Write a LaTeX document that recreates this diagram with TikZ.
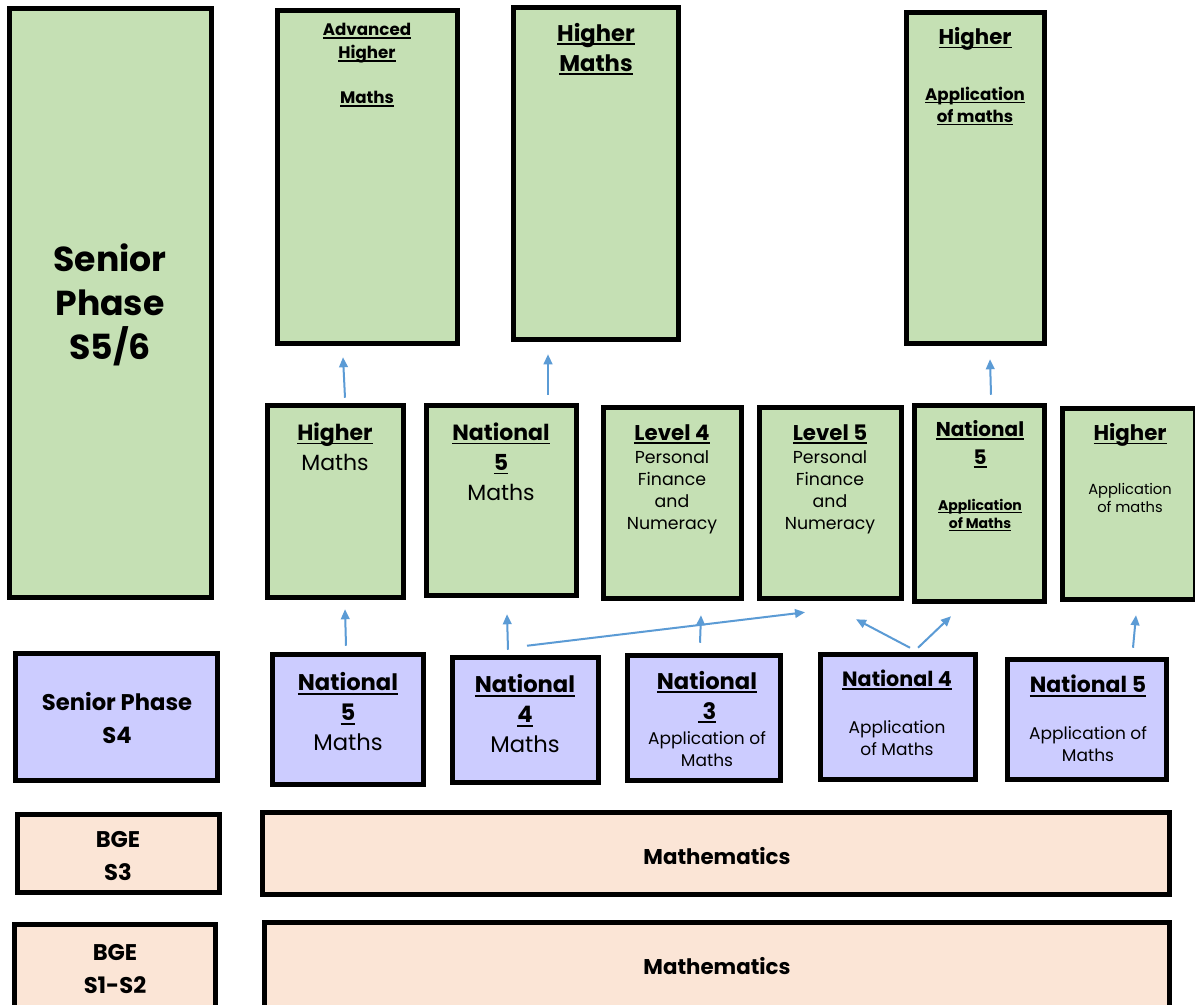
\documentclass[tikz,border=0pt]{standalone}
\usepackage{fontspec}
\setmainfont{Poppins}
\usetikzlibrary{fit,arrows.meta,calc}
\definecolor{gfill}{HTML}{C5E0B4}
\definecolor{pfill}{HTML}{CCCCFF}
\definecolor{ofill}{HTML}{FBE5D6}
\definecolor{arrc}{HTML}{5B9BD5}
\newcommand{\ulx}[1]{\setbox0\hbox{#1}\rlap{\rule[-0.17em]{\wd0}{0.075em}}\box0}
\begin{document}
\begin{tikzpicture}[x=0.75pt,y=-0.75pt,
  box/.style={draw=black,line width=3.4pt,inner sep=0pt},
  gbox/.style={box,fill=gfill},
  pbox/.style={box,fill=pfill},
  obox/.style={box,fill=ofill},
  arr/.style={draw=arrc,line width=1.5pt,-{Triangle[length=7.5pt,width=6.5pt]}},
  tx/.style={align=center,inner sep=0pt,text=black},
  ft/.style 2 args={font=\fontsize{#1}{#2}\selectfont},
  ftb/.style 2 args={font=\fontsize{#1}{#2}\selectfont\bfseries}]
\useasboundingbox (0,0) rectangle (1195,1004);
\clip (0,0) rectangle (1195,1004);
\fill[white] (0,0) rectangle (1195,1004);

% boxes
\node[gbox,fit={(9.5,8.5)(211.5,597.5)}] (ss56) {};
\node[gbox,fit={(277.5,10.5)(457.5,343.5)}] (ah) {};
\node[gbox,fit={(513.5,7.5)(678.5,339.5)}] (hm) {};
\node[gbox,fit={(906.5,12.5)(1044.5,343.5)}] (ha) {};

\node[gbox,fit={(267.5,405.5)(403.5,597.5)}] (h2) {};
\node[gbox,fit={(426.5,405.5)(576.5,595.5)}] (n5m2) {};
\node[gbox,fit={(603.5,407.5)(741.5,598.5)}] (l4) {};
\node[gbox,fit={(759.5,407.5)(901.5,598.5)}] (l5) {};
\node[gbox,fit={(914.5,405.5)(1044.5,601.5)}] (n5a2) {};
\node[gbox,fit={(1062.5,408.5)(1195,599.5)}] (ha2) {};

\node[pbox,fit={(15.5,653.5)(217.5,780.5)}] (sp4) {};
\node[pbox,fit={(272.5,654.5)(423.5,784.5)}] (n5) {};
\node[pbox,fit={(452.5,657.5)(598.5,782.5)}] (n4) {};
\node[pbox,fit={(627.5,655.5)(780.5,780.5)}] (n3) {};
\node[pbox,fit={(820.5,654.5)(975.5,779.5)}] (n4a) {};
\node[pbox,fit={(1007.5,659.5)(1166.5,779.5)}] (n5a) {};

\node[obox,fit={(17.5,814.5)(219.5,892.5)}] (bge3) {};
\node[obox,fit={(262.5,812.5)(1169.5,894.5)}] (m3) {};
\node[obox,fit={(14.5,924.5)(215.5,1012)}] (bge12) {};
\node[obox,fit={(264.5,922.5)(1169.5,1012)}] (m12) {};

% texts
\node[tx,ftb={26}{33}] (t-ss56) at (110,305) {Senior\\Phase\\S5/6};
\node[tx,ftb={12.5}{17.25}] (t-ah1) at (367,43.5) {\ulx{Advanced}\\\ulx{Higher}};
\node[tx,ftb={12.5}{17.25}] (t-ah2) at (367,99) {\ulx{Maths}};
\node[tx,ftb={17}{22.5}] (t-hm) at (596,49) {\ulx{Higher}\\\ulx{Maths}};
\node[tx,ftb={16}{20}] (t-ha1) at (975,39) {\ulx{Higher}};
\node[tx,ftb={12.5}{16.5}] (t-ha2) at (975,106) {\ulx{Application}\\\ulx{of maths}};

\node[tx,ft={16.5}{22.5}] (t-h2) at (335,447) {\ulx{\bfseries Higher}\\Maths};
\node[tx,ft={16.5}{22.5}] (t-n5m2) at (501,462) {\ulx{\bfseries National}\\\ulx{\bfseries 5}\\Maths};
\node[tx,ftb={16}{20}] (t-l4a) at (672,434) {\ulx{Level 4}};
\node[tx,ft={13}{16.5}] (t-l4b) at (672,492) {Personal\\Finance\\and\\Numeracy};
\node[tx,ftb={16}{20}] (t-l5a) at (830,434) {\ulx{Level 5}};
\node[tx,ft={13}{16.5}] (t-l5b) at (830,492) {Personal\\Finance\\and\\Numeracy};
\node[tx,ftb={15}{21}] (t-n5a2a) at (980,444) {\ulx{National}\\\ulx{5}};
\node[tx,ftb={10.5}{13.5}] (t-n5a2b) at (980,515) {\ulx{Application}\\\ulx{of Maths}};
\node[tx,ftb={16}{20}] (t-ha2a) at (1130,435) {\ulx{Higher}};
\node[tx,ft={11}{13.5}] (t-ha2b) at (1130,498) {Application\\of maths};

\node[tx,ft={17}{22.5}] (t-n5) at (348,712) {\ulx{\bfseries National}\\\ulx{\bfseries 5}\\Maths};
\node[tx,ft={17}{22.5}] (t-n4) at (525,714) {\ulx{\bfseries National}\\\ulx{\bfseries 4}\\Maths};
\node[tx,ftb={17}{22.5}] (t-n3a) at (707,697) {\ulx{National}\\\ulx{\ 3}};
\node[tx,ft={12.75}{16.5}] (t-n3b) at (707,749) {Application of\\Maths};
\node[tx,ftb={15.5}{20}] (t-n4aa) at (897,680) {\ulx{National 4}};
\node[tx,ft={12.75}{16.5}] (t-n4ab) at (897,738) {Application\\of Maths};
\node[tx,ftb={16.5}{20}] (t-n5aa) at (1088,686) {\ulx{National 5}};
\node[tx,ft={12.75}{16.5}] (t-n5ab) at (1088,744) {Application of\\Maths};
\node[tx,ftb={17}{24.75}] (t-sp4) at (117,718) {Senior Phase\\S4};
\node[tx,ftb={17}{24.75}] (t-bge3) at (118,856) {BGE\\S3};
\node[tx,ftb={17}{24.75}] (t-bge12) at (115,969) {BGE\\S1-S2};
\node[tx,ftb={16}{20}] (t-m3) at (717,856) {Mathematics};
\node[tx,ftb={16}{20}] (t-m12) at (717,966) {Mathematics};

% arrows
\draw[arr] ($(h2.north)+(9.5,-5.5)$) -- ($(ah.south)+(-24.5,11.5)$);
\draw[arr] ($(n5m2.north)+(46.5,-8.5)$) -- ($(hm.south)+(-48,12.5)$);
\draw[arr] ($(n5a2.north)+(11.5,-8.5)$) -- ($(ha.south)+(14.5,13.5)$);
\draw[arr] ($(n5.north)+(-2,-6.5)$) -- ($(h2.south)+(9.5,9.5)$);
\draw[arr] ($(n4.north)+(-17.5,-5.5)$) -- ($(n5m2.south)+(5.5,16.5)$);
\draw[arr] ($(n4.north)+(1.5,-9.5)$) -- ($(l5.south)+(-25.5,11.5)$);
\draw[arr] ($(n3.north)+(-4,-10.5)$) -- ($(l4.south)+(28.5,14.5)$);
\draw[arr] ($(n4a.north)+(12,-4.5)$) -- ($(l5.south)+(25.5,18.5)$);
\draw[arr] ($(n4a.north)+(20,-4.5)$) -- ($(n5a2.south)+(-28.5,12.5)$);
\draw[arr] ($(n5a.north)+(46,-9.5)$) -- ($(ha2.south)+(7.25,13.5)$);
\end{tikzpicture}
\end{document}
